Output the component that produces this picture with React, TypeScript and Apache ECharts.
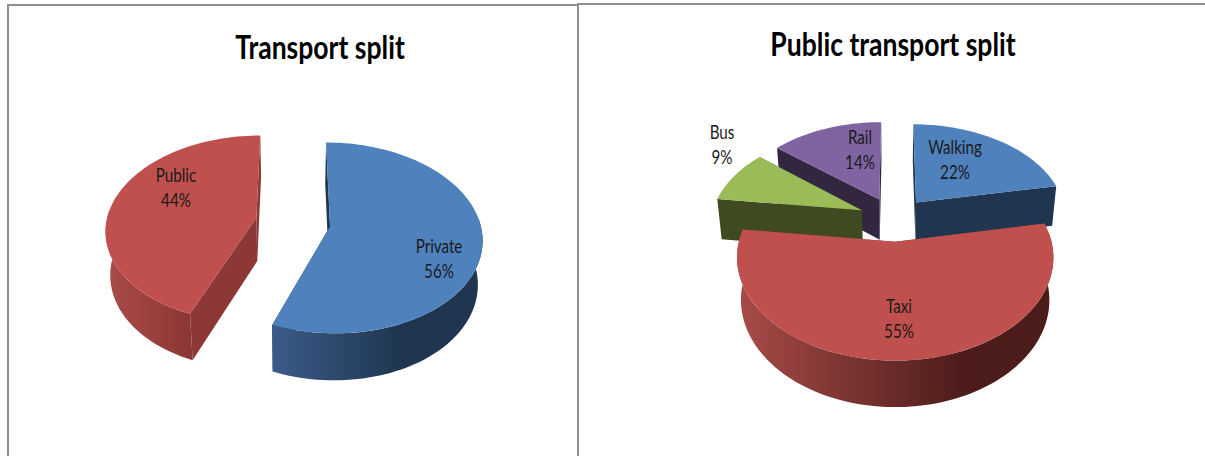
import React, { useEffect, useRef } from "react";
import * as echarts from "echarts";

const transportLabels = ["Private", "Public"];
const transportValues = [56, 44];
const publicLabels = ["Walking", "Taxi", "Bus", "Rail"];
const publicValues = [22, 55, 9, 14];
const titles = ["Transport split", "Public transport split"];

type Look = { top: string; radial: string; side: [string, string, number] };
const BLUE: Look = { top: "#4f81bd", radial: "#1f3550", side: ["#3a5c88", "#1f3550", 0.62] };
const RED_L: Look = { top: "#c0504d", radial: "#8c3836", side: ["#ab4c49", "#8a3634", 1] };
const RED_R: Look = { top: "#c0504d", radial: "#8c3836", side: ["#a84b48", "#4c1c1b", 0.72] };
const GREEN: Look = { top: "#9bbb59", radial: "#3f4a20", side: ["#5d7034", "#3f4a20", 1] };
const PURPLE: Look = { top: "#8064a2", radial: "#322640", side: ["#4c3c61", "#322640", 1] };

const leftGeo = { cx: 293, cy: 222, rx: 150, ry: 93, k: 0.12, h: 43.5, e: 0.25 };
const rightGeo = { cx: 894, cy: 219, rx: 151, ry: 94, k: 0.146, h: 41, e: 0.235 };
const leftLabelPos = [[439, 258], [176, 187]];
const rightLabelPos = [[955, 159], [899, 318], [722, 144], [860, 149]];

const rad = (d: number) => (d * Math.PI) / 180;

function pieSeries(labels: string[], values: number[], looks: Look[], geo: typeof leftGeo, labelPos: number[][]) {
  const total = values.reduce((a, b) => a + b, 0);
  const project = (u: number, v: number, deep: boolean): number[] => {
    const s = 1 / (1 - geo.k * v);
    const f = deep ? 0.975 : 1;
    return [geo.cx + geo.rx * u * s * f, geo.cy + geo.ry * v * s * f + (deep ? geo.h * s : 0)];
  };
  return {
    type: "custom",
    coordinateSystem: "none",
    silent: true,
    data: values.map((v) => [v]),
    renderItem: (params: any, api: any) => {
      const i = params.dataIndex;
      const before = values.slice(0, i).reduce((a, b) => a + b, 0);
      const start = (before / total) * 360;
      const end = ((before + api.value(0)) / total) * 360;
      const mid = (start + end) / 2;
      const ex = geo.e * Math.sin(rad(mid));
      const ey = -geo.e * Math.cos(rad(mid));
      const rimAt = (a: number, deep: boolean) => project(ex + Math.sin(rad(a)), ey - Math.cos(rad(a)), deep);
      const arc = (a0: number, a1: number, deep: boolean) => {
        const pts: number[][] = [];
        const n = Math.max(2, Math.ceil((a1 - a0) / 2));
        for (let j = 0; j <= n; j++) pts.push(rimAt(a0 + ((a1 - a0) * j) / n, deep));
        return pts;
      };
      const apexTop = project(ex, ey, false);
      const apexDeep = project(ex, ey, true);
      const look = looks[i];
      const base = 10 * Math.round(50 - 40 * Math.cos(rad(mid)));
      const children: any[] = [];
      [start, end].forEach((a) => {
        children.push({
          type: "polygon",
          z2: base,
          shape: { points: [apexTop, rimAt(a, false), rimAt(a, true), apexDeep] },
          style: { fill: look.radial },
        });
      });
      const a0 = Math.max(start, 85);
      const a1 = Math.min(end, 275);
      if (a1 > a0) {
        const upper = arc(a0, a1, false);
        const lower = arc(a0, a1, true).reverse();
        children.push({
          type: "polygon",
          z2: base + 1,
          shape: { points: upper.concat(lower) },
          style: {
            fill: new echarts.graphic.LinearGradient(0, 0, 1, 0, [
              { offset: 0, color: look.side[0] },
              { offset: look.side[2], color: look.side[1] },
              { offset: 1, color: look.side[1] },
            ]),
          },
        });
      }
      children.push({
        type: "polygon",
        z2: base + 2,
        shape: { points: [apexTop].concat(arc(start, end, false)) },
        style: { fill: look.top },
      });
      children.push({
        type: "text",
        z2: 2000,
        x: labelPos[i][0],
        y: labelPos[i][1],
        scaleX: 0.8,
        style: {
          text: `${labels[i]}\n${Math.round((api.value(0) / total) * 100)}%`,
          fill: "#1a1a1a",
          font: "19px Lato, sans-serif",
          lineHeight: 25,
          align: "center",
          verticalAlign: "middle",
        },
      });
      return { type: "group", children };
    },
  };
}

export default function App() {
  const ref = useRef<HTMLDivElement>(null);
  useEffect(() => {
    document.body.style.margin = "0";
    const chart = echarts.init(ref.current!, undefined, { renderer: "svg" });
    const frame = "#8f8f8f";
    const titleStyle = {
      fill: "#000",
      font: "bold 33px Lato, sans-serif",
      align: "center",
      verticalAlign: "middle",
    };
    chart.setOption({
      animation: false,
      backgroundColor: "#fff",
      graphic: [
        { type: "rect", silent: true, shape: { x: 7, y: 4, width: 571, height: 2 }, style: { fill: frame } },
        { type: "rect", silent: true, shape: { x: 578, y: 3, width: 627, height: 2 }, style: { fill: frame } },
        { type: "rect", silent: true, shape: { x: 7, y: 4, width: 2, height: 452 }, style: { fill: frame } },
        { type: "rect", silent: true, shape: { x: 577, y: 3, width: 2, height: 453 }, style: { fill: frame } },
        { type: "text", silent: true, x: 320, y: 46, scaleX: 0.805, style: { ...titleStyle, text: titles[0] } },
        { type: "text", silent: true, x: 893, y: 43, scaleX: 0.805, style: { ...titleStyle, text: titles[1] } },
      ],
      series: [
        pieSeries(transportLabels, transportValues, [BLUE, RED_L], leftGeo, leftLabelPos),
        pieSeries(publicLabels, publicValues, [BLUE, RED_R, GREEN, PURPLE], rightGeo, rightLabelPos),
      ],
    });
    return () => chart.dispose();
  }, []);
  return <div ref={ref} style={{ width: 1205, height: 456 }} />;
}
